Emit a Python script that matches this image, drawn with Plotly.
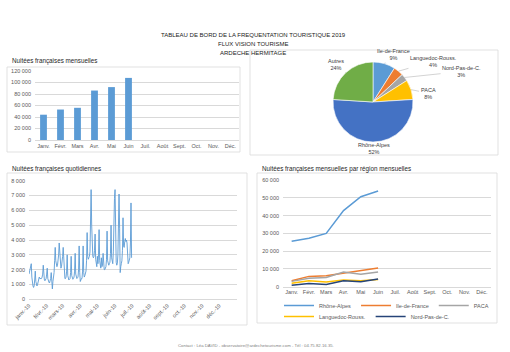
import math
import pandas as pd
import plotly.graph_objects as go

# ---------------- data ----------------
months = ["Janv.", "Févr.", "Mars", "Avr.", "Mai", "Juin", "Juil.", "Août", "Sept.", "Oct.", "Nov.", "Déc."]
monthly_nights = [44000, 53000, 56000, 86000, 92000, 108000]

pie_labels = ["Ile-de-France", "Languedoc-Rouss.", "Nord-Pas-de-C.", "PACA", "Rhône-Alpes", "Autres"]
pie_values = [9, 4, 3, 8, 52, 24]

daily_jan = [1700, 1900, 2000, 2200, 2400, 1500, 1000, 900, 800, 900, 1300, 1900, 1200, 1000, 900, 1000,
             1200, 1400, 1500, 1400, 1400, 1450, 1400, 1500, 1700, 2300, 1500, 1300, 1250, 1300, 1400]
daily_feb = [1700, 2100, 1400, 1200, 1150, 1100, 1200, 1400, 1800, 1000, 700, 1200, 1400, 1800, 2600, 3500,
             2600, 2300, 2200, 2300, 2600, 3000, 3800, 2800, 2300, 2100, 2200, 2500]
daily_mar = [2900, 3500, 2300, 1500, 1400, 1400, 1500, 1900, 3000, 1600, 1300, 1300, 1350, 1400, 1800, 2900,
             1600, 1400, 1350, 1400, 1500, 1900, 3100, 1700, 1400, 1400, 1450, 1500, 2000, 3600, 1800]
daily_apr = [1200, 1300, 1400, 1400, 1900, 3600, 1800, 1500, 1600, 1700, 1900, 2600, 4500, 2900, 2700, 2800,
             2900, 3200, 4500, 7400, 5000, 3200, 2900, 2800, 2900, 3300, 4400, 2700, 2300, 2200]
daily_may = [2900, 2400, 3000, 4700, 2600, 2100, 2100, 2800, 2200, 2300, 3100, 2200, 2000, 2000, 2100, 2200,
             2700, 4600, 2600, 2300, 2300, 2400, 2500, 3100, 5000, 2800, 2400, 2400, 3200, 6200, 6800]
daily_jun = [7400, 3800, 2500, 2300, 2400, 3000, 5200, 7100, 4800, 1800, 2200, 2400, 2600, 3300, 5500, 3600,
             3500, 3900, 4100, 3900, 4000, 3800, 2600, 2400, 2500, 2600, 2800, 3800, 6500, 2800]
daily_start = "2019-01-01"

month_tick_dates = ["2019-01-01", "2019-02-01", "2019-03-01", "2019-04-01", "2019-05-01", "2019-06-01",
                    "2019-07-01", "2019-08-01", "2019-09-01", "2019-10-01", "2019-11-01", "2019-12-01"]
month_tick_text = ["janv.-19", "févr.-19", "mars-19", "avr.-19", "mai-19", "juin-19",
                   "juil.-19", "août-19", "sept.-19", "oct.-19", "nov.-19", "déc.-19"]

region_names = ["Rhône-Alpes", "Ile-de-France", "PACA", "Languedoc-Rouss.", "Nord-Pas-de-C."]
region_rhone = [25500, 27300, 30000, 42800, 50600, 53800]
region_idf = [3400, 5800, 6200, 7500, 8800, 10500]
region_paca = [3000, 4800, 5200, 8200, 7000, 8300]
region_lang = [1900, 3400, 2600, 3700, 3400, 4100]
region_nord = [800, 1800, 1300, 3300, 2800, 4300]

# ---------------- style ----------------
W, H = 510, 352
FONT = "Liberation Sans Narrow, Arial Narrow, Liberation Sans, sans-serif"
TICK = dict(family=FONT, size=5.5, color="#595959")
GRID = "#D9D9D9"
pie_colors = ["#5B9BD5", "#ED7D31", "#A5A5A5", "#FFC000", "#4472C4", "#70AD47"]
region_colors = ["#5B9BD5", "#ED7D31", "#A5A5A5", "#FFC000", "#264478"]


def px(x):
    return x / W


def py(y):
    return 1 - y / H


fig = go.Figure()

# bar chart (top-left)
fig.add_trace(go.Bar(x=months[:len(monthly_nights)], y=monthly_nights, marker_color="#5B9BD5",
                     marker_line_width=0, xaxis="x", yaxis="y", showlegend=False))

# pie (top-right)
pie_dom_x = [333, 413]
pie_dom_y = [62, 142]
fig.add_trace(go.Pie(labels=pie_labels, values=pie_values, sort=False, direction="clockwise", rotation=0,
                     marker=dict(colors=pie_colors, line=dict(color="white", width=0.6)),
                     textinfo="none", hoverinfo="label+percent", showlegend=False,
                     domain=dict(x=[px(pie_dom_x[0]), px(pie_dom_x[1])], y=[py(pie_dom_y[1]), py(pie_dom_y[0])])))

# daily line (bottom-left)
daily_values = daily_jan + daily_feb + daily_mar + daily_apr + daily_may + daily_jun
daily_dates = pd.date_range(daily_start, periods=len(daily_values), freq="D")
fig.add_trace(go.Scatter(x=daily_dates, y=daily_values, mode="lines", line=dict(color="#5B9BD5", width=0.9),
                         xaxis="x2", yaxis="y2", showlegend=False))

# regions lines (bottom-right)
region_series = [region_rhone, region_idf, region_paca, region_lang, region_nord]
for i, (name, vals, col) in enumerate(zip(region_names, region_series, region_colors)):
    fig.add_trace(go.Scatter(x=months[:len(vals)], y=vals, mode="lines", name=name,
                             line=dict(color=col, width=1.5), xaxis="x3", yaxis="y3",
                             legend="legend" if i < 3 else "legend2"))

axis_common = dict(tickfont=TICK, showgrid=False, showline=True, linecolor=GRID, linewidth=0.8,
                   ticks="", zeroline=False, fixedrange=True, automargin=False)
yaxis_common = dict(tickfont=TICK, showgrid=True, gridcolor=GRID, gridwidth=0.6, showline=False,
                    zeroline=False, ticks="", tickformat=",d", ticklabelstandoff=3, automargin=False,
                    fixedrange=True)

fig.update_layout(
    template="none",
    width=W, height=H, margin=dict(l=0, r=0, t=0, b=0, pad=0),
    paper_bgcolor="white", plot_bgcolor="white", separators=", ",
    font=dict(family=FONT, size=6, color="#404040"),
    bargap=0.6,
    xaxis=dict(axis_common, domain=[px(35), px(239)], type="category", categoryorder="array",
               categoryarray=months, range=[-0.5, 11.5], anchor="y"),
    yaxis=dict(yaxis_common, domain=[py(140), py(71)], range=[0, 120000], dtick=20000, anchor="x"),
    xaxis2=dict(axis_common, domain=[px(29), px(237)], type="date",
                range=["2019-01-01", "2020-01-01"], tickvals=month_tick_dates, ticktext=month_tick_text,
                tickangle=-45, anchor="y2"),
    yaxis2=dict(yaxis_common, domain=[py(299.3), py(180.7)], range=[0, 8001], dtick=1000, anchor="x2"),
    xaxis3=dict(axis_common, domain=[px(283), px(490.5)], type="category", categoryorder="array",
                categoryarray=months, range=[-0.5, 11.5], anchor="y3"),
    yaxis3=dict(yaxis_common, domain=[py(286.7), py(180)], range=[0, 60000], dtick=10000, anchor="x3"),
    legend=dict(orientation="h", x=px(279), y=py(305.5), xanchor="left", yanchor="middle",
                font=dict(family=FONT, size=5.5, color="#595959"), bgcolor="rgba(0,0,0,0)",
                itemwidth=30, tracegroupgap=0, borderwidth=0),
    legend2=dict(orientation="h", x=px(279), y=py(316.5), xanchor="left", yanchor="middle",
                 font=dict(family=FONT, size=5.5, color="#595959"), bgcolor="rgba(0,0,0,0)",
                 itemwidth=30, tracegroupgap=0, borderwidth=0),
)

# panel frames
frames = [(7, 67, 240, 152), (250, 50, 498, 155), (7, 173, 247, 325), (257, 173, 497, 323)]
for x0, y0, x1, y1 in frames:
    fig.add_shape(type="rect", xref="paper", yref="paper", x0=px(x0), x1=px(x1), y0=py(y1), y1=py(y0),
                  line=dict(color=GRID, width=0.8), fillcolor="rgba(0,0,0,0)", layer="below")

annotations = []
# main title
for text, y in [("TABLEAU DE BORD DE LA FREQUENTATION TOURISTIQUE 2019", 35),
                ("FLUX VISION TOURISME", 43.7), ("ARDECHE HERMITAGE", 52.5)]:
    annotations.append(dict(text=text, x=px(253), y=py(y), xref="paper", yref="paper", showarrow=False,
                            xanchor="center", yanchor="middle", font=dict(family=FONT, size=6, color="#1A1A1A")))
# panel titles
for text, x, y in [("Nuitées françaises mensuelles", 10, 61.5),
                   ("Nuitées françaises quotidiennes", 10, 169.5),
                   ("Nuitées françaises mensuelles par région mensuelles", 260, 169.5)]:
    annotations.append(dict(text=text, x=px(x), y=py(y), xref="paper", yref="paper", showarrow=False,
                            xanchor="left", yanchor="middle", font=dict(family=FONT, size=6.3, color="#262626")))

# pie labels with leader lines from the slice edge
cx = (pie_dom_x[0] + pie_dom_x[1]) / 2
cy = (pie_dom_y[0] + pie_dom_y[1]) / 2
r = (pie_dom_x[1] - pie_dom_x[0]) / 2
label_offsets = [(9, -9), (35, -10), (57, -6), (17, 3.5), (1, 7), (-10, -8)]
total = sum(pie_values)
cum = 0
for lab, v, (ax, ay) in zip(pie_labels, pie_values, label_offsets):
    mid = math.radians((cum + v / 2) / total * 360)
    cum += v
    ex = cx + r * math.sin(mid)
    ey = cy - r * math.cos(mid)
    annotations.append(dict(text=f"{lab}<br>{round(v / total * 100)}%", x=px(ex), y=py(ey),
                            xref="paper", yref="paper", showarrow=True, arrowhead=0, arrowwidth=0.5,
                            arrowcolor="#A6A6A6", ax=ax, ay=ay, standoff=0,
                            font=dict(family=FONT, size=5.5, color="#404040")))

# footer
annotations.append(dict(text="Contact : Léa DAVID - observatoire@ardechetourisme.com - Tél : 04.75.82.16.35.",
                        x=px(256), y=py(345), xref="paper", yref="paper", showarrow=False,
                        xanchor="center", yanchor="middle", font=dict(family=FONT, size=4.3, color="#7F7F7F")))

fig.update_layout(annotations=annotations)
fig.write_html("out.html")
